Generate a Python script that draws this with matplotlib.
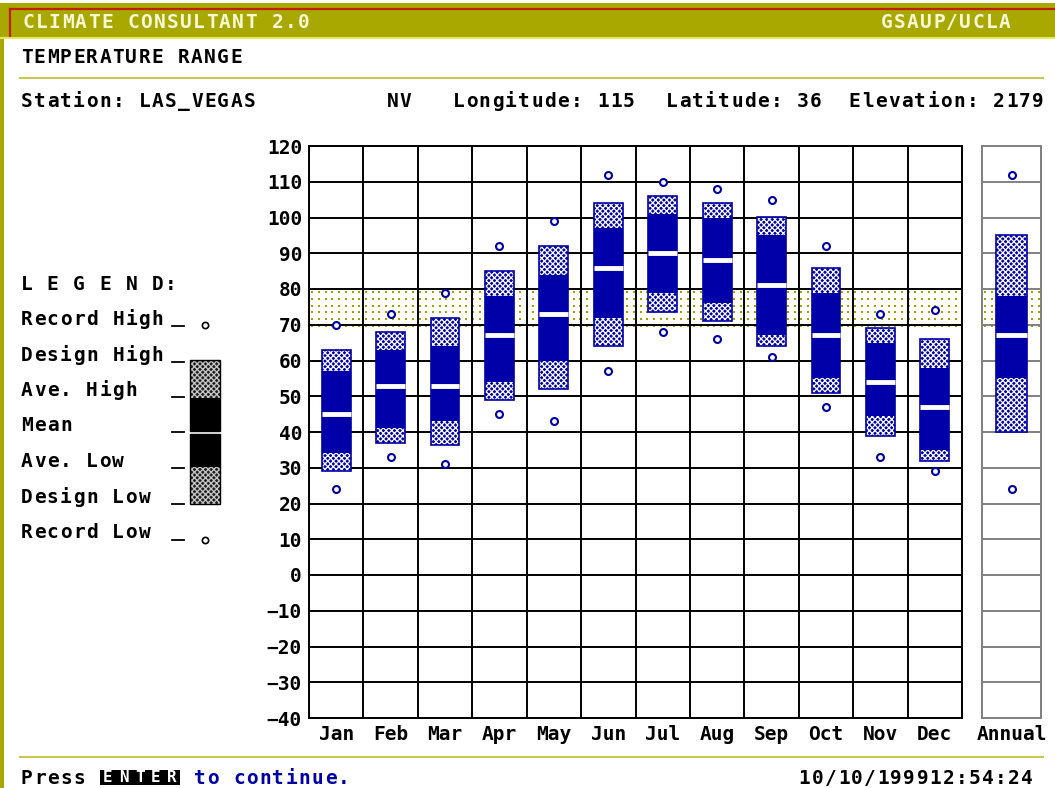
import numpy as np
import matplotlib
matplotlib.use('Agg')
import matplotlib.pyplot as plt
from matplotlib.patches import Rectangle

# ------------------------------------ DATA ----------------------------------- #
months = ['Jan', 'Feb', 'Mar', 'Apr', 'May', 'Jun',
          'Jul', 'Aug', 'Sep', 'Oct', 'Nov', 'Dec']
record_high = [70, 73, 79, 92, 99, 112, 110, 108, 105, 92, 73, 74]
design_high = [63, 68, 72, 85, 92, 104, 106, 104, 100, 86, 69, 66]
ave_high = [57, 63, 64, 78, 84, 97, 101, 100, 95, 79, 65, 58]
mean_temp = [45, 53, 53, 67, 73, 86, 90, 88, 81, 67, 54, 47]
ave_low = [34, 41, 43, 54, 60, 72, 79, 76, 67, 55, 44.5, 35]
design_low = [29, 37, 36.5, 49, 52, 64, 73.5, 71, 64, 51, 39, 32]
record_low = [24, 33, 31, 45, 43, 57, 68, 66, 61, 47, 33, 29]

annual = {'record_high': 112, 'design_high': 95, 'ave_high': 78, 'mean': 67,
          'ave_low': 55, 'design_low': 40, 'record_low': 24}

comfort_low, comfort_high = 68, 80
y_ticks = list(range(-40, 121, 10))

legend_items = ['Record High', 'Design High', 'Ave. High', 'Mean',
                'Ave. Low', 'Design Low', 'Record Low']

# ----------------------------------- STYLE ----------------------------------- #
W, H = 1055, 788
BLUE = '#0000A8'
OLIVE = '#A8A800'
LINE_Y = '#C8C850'
DOT = '#A0A000'
MONO = 'DejaVu Sans Mono'
FS = 14
plt.rcParams['hatch.linewidth'] = 0.9

fig = plt.figure(figsize=(W / 100, H / 100), dpi=100)
fig.patch.set_facecolor('white')

bg = fig.add_axes((0, 0, 1, 1))
bg.set_xlim(0, W)
bg.set_ylim(H, 0)
bg.axis('off')


def rect(x0, y0, x1, y1):
    return (x0 / W, 1 - y1 / H, (x1 - x0) / W, (y1 - y0) / H)


def mono(x, y, s, color='black', size=FS, pitch=13.1):
    for i, ch in enumerate(s):
        if ch == ' ':
            continue
        bg.text(x + (i + 0.5) * pitch, y, ch, color=color, fontsize=size,
                fontfamily=MONO, fontweight='bold', ha='center', va='center')


# ---------------------------------- FRAME ------------------------------------ #
bg.add_patch(Rectangle((0, 3), W, 35, facecolor=OLIVE, edgecolor='none'))
bg.plot([10, W], [9, 9], color='#C02000', lw=1.6)
bg.plot([10, 10], [9, 36], color='#C02000', lw=1.6)
bg.plot([0, W], [37.5, 37.5], color='#E8E860', lw=1.5)
bg.add_patch(Rectangle((0, 3), 4, H, facecolor=OLIVE, edgecolor='none'))

mono(22, 22, 'CLIMATE CONSULTANT 2.0', color='#F8F8D8')
mono(880, 22, 'GSAUP/UCLA', color='#F8F8D8')

mono(20, 57, 'TEMPERATURE RANGE')
bg.plot([20, 1043], [78, 78], color=LINE_Y, lw=1.5)
mono(20, 101, 'Station: LAS_VEGAS')
mono(386, 101, 'NV')
mono(452, 101, 'Longitude: 115')
mono(665, 101, 'Latitude: 36')
mono(848, 101, 'Elevation: 2179')

# ---------------------------------- LEGEND ----------------------------------- #
mono(20, 284, 'L E G E N D:')
leg_y = [319, 355, 390, 425, 461, 497, 533]
for label, ly in zip(legend_items, leg_y):
    mono(20, ly, label)
    bg.plot([172, 184], [ly + 7, ly + 7], color='black', lw=1.3)
bg.plot([205, 205], [325, 540], linestyle='None', marker='o', markersize=4.5,
        markerfacecolor='none', markeredgecolor='black', markeredgewidth=1.2)
for y0, h in [(360, 38), (467, 37)]:
    bg.add_patch(Rectangle((190, y0), 30, h, facecolor='#202020', edgecolor='#C8C8C8',
                           lw=0, hatch='xxxxxx'))
bg.add_patch(Rectangle((190, 398), 30, 33, facecolor='black', edgecolor='none'))
bg.add_patch(Rectangle((190, 434), 30, 33, facecolor='black', edgecolor='none'))
bg.add_patch(Rectangle((190, 360), 30, 71, facecolor='none', edgecolor='black', lw=1))
bg.add_patch(Rectangle((190, 434), 30, 70, facecolor='none', edgecolor='black', lw=1))

# ---------------------------------- BOTTOM ----------------------------------- #
bg.plot([20, 1043], [757, 757], color=LINE_Y, lw=1.5)
mono(20, 778, 'Press')
bg.add_patch(Rectangle((100, 770), 80, 15, facecolor='black', edgecolor='none'))
mono(100, 778, 'ENTER', color='white', size=11.5, pitch=16)
mono(193, 778, 'to continue.', color=BLUE)
mono(798, 778, '10/10/199912:54:24')


# ---------------------------------- CHART ------------------------------------ #
def draw_box(ax, x, dh, ah, mn, al, dl, rh, rl, width):
    x0 = x - width / 2
    ax.add_patch(Rectangle((x0, dl), width, dh - dl, facecolor=BLUE,
                           edgecolor='none', zorder=3))
    ax.add_patch(Rectangle((x0, ah), width, dh - ah, facecolor=BLUE,
                           edgecolor='white', lw=0, hatch='xxxxxx', zorder=4))
    ax.add_patch(Rectangle((x0, dl), width, al - dl, facecolor=BLUE,
                           edgecolor='white', lw=0, hatch='xxxxxx', zorder=4))
    ax.add_patch(Rectangle((x0, dl), width, dh - dl, facecolor='none',
                           edgecolor=BLUE, lw=1.2, zorder=5))
    ax.plot([x0, x0 + width], [mn, mn], color='white', lw=3.5, zorder=6,
            solid_capstyle='butt')
    ax.plot([x, x], [rh, rl], linestyle='None', marker='o', markersize=5,
            markerfacecolor='white', markeredgecolor=BLUE, markeredgewidth=1.5,
            zorder=6)


def setup_axes(ax, n, grid_color, px_width):
    ax.set_xlim(0, n)
    ax.set_ylim(-40, 120)
    # dotted comfort band, dots roughly every 6.7 px
    dx = n * 6.7 / px_width
    dy = 160 * 6.7 / 572
    gx, gy = np.meshgrid(np.arange(dx / 2, n, dx),
                         np.arange(comfort_high - dy / 2, comfort_low, -dy))
    ax.plot(gx.ravel(), gy.ravel(), linestyle='None', marker='s', markersize=1.6,
            markeredgewidth=0, color=DOT, zorder=1)
    for v in y_ticks:
        ax.axhline(v, color=grid_color, lw=1.4, zorder=2)
    for k in range(n + 1):
        ax.axvline(k, color=grid_color, lw=1.4, zorder=2)
    for sp in ax.spines.values():
        sp.set_color(grid_color)
        sp.set_linewidth(1.4)
    ax.tick_params(length=0, pad=5)
    ax.set_yticks(y_ticks)
    for lab in ax.get_yticklabels() + ax.get_xticklabels():
        lab.set_fontfamily(MONO)
        lab.set_fontweight('bold')
        lab.set_fontsize(FS)


ax = fig.add_axes(rect(309, 146, 962, 718))
setup_axes(ax, 12, 'black', 653)
ax.set_xticks(np.arange(12) + 0.5)
ax.set_xticklabels(months, fontfamily=MONO, fontweight='bold', fontsize=FS)
for i in range(12):
    draw_box(ax, i + 0.5, design_high[i], ave_high[i], mean_temp[i], ave_low[i],
             design_low[i], record_high[i], record_low[i], 0.53)

axa = fig.add_axes(rect(982, 146, 1041, 718))
setup_axes(axa, 1, '#808080', 59)
axa.set_yticklabels([])
axa.set_xticks([0.5])
axa.set_xticklabels(['Annual'], fontfamily=MONO, fontweight='bold', fontsize=FS)
draw_box(axa, 0.5, annual['design_high'], annual['ave_high'], annual['mean'],
         annual['ave_low'], annual['design_low'], annual['record_high'],
         annual['record_low'], 0.53)

fig.savefig('out.png', dpi=100)
